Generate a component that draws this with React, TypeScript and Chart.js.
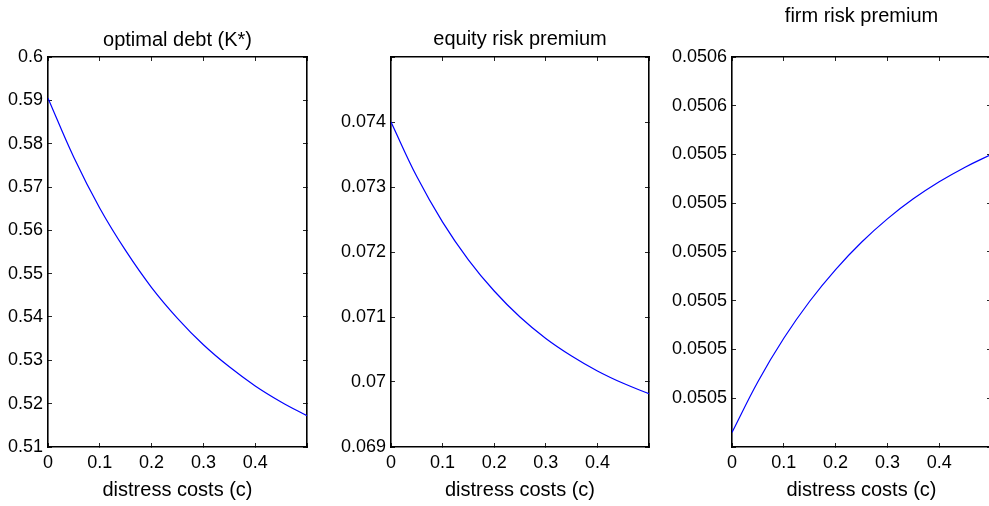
import React, { useEffect, useRef } from 'react';
import { Chart, registerables } from 'chart.js';

Chart.register(...registerables);

// ---- data ----
const costs = [0, 0.05, 0.1, 0.15, 0.2, 0.25, 0.3, 0.35, 0.4, 0.45, 0.5];

const optimalDebt = [0.5905, 0.5768, 0.5651, 0.5553, 0.5468, 0.5397, 0.5336, 0.5285, 0.5241, 0.5204, 0.5172];

const equityPremium = [0.074, 0.07316, 0.07246, 0.07188, 0.0714, 0.071, 0.07067, 0.0704, 0.07017, 0.06998, 0.06982];

const firmPremium = [0.050483, 0.0504934, 0.0505023, 0.0505099, 0.0505164, 0.050522, 0.0505268, 0.0505309, 0.0505344, 0.0505374, 0.05054];

const xTickValues = [0, 0.1, 0.2, 0.3, 0.4, 0.5];
const xTickLabels = ['0', '0.1', '0.2', '0.3', '0.4', ''];

const debtTickValues = [0.51, 0.52, 0.53, 0.54, 0.55, 0.56, 0.57, 0.58, 0.59, 0.6];
const debtTickLabels = ['0.51', '0.52', '0.53', '0.54', '0.55', '0.56', '0.57', '0.58', '0.59', '0.6'];

const equityTickValues = [0.069, 0.07, 0.071, 0.072, 0.073, 0.074, 0.075];
const equityTickLabels = ['0.069', '0.07', '0.071', '0.072', '0.073', '0.074', ''];

const firmTickValues = [0.05048, 0.05049, 0.0505, 0.05051, 0.05052, 0.05053, 0.05054, 0.05055, 0.05056];
const firmTickLabels = ['', '0.0505', '0.0505', '0.0505', '0.0505', '0.0505', '0.0505', '0.0506', '0.0506'];

const xTitle = 'distress costs (c)';

const FONT = "'Liberation Sans', Arial, Helvetica, sans-serif";

type PanelCfg = {
  left: number;
  width: number;
  yWidth: number;
  padR: number;
  title: string;
  titlePad: number;
  values: number[];
  yMin: number;
  yMax: number;
  yTicks: number[];
  yLabels: string[];
};

const panels: PanelCfg[] = [
  {
    left: 0, width: 330, yWidth: 48, padR: 23,
    title: 'optimal debt (K*)', titlePad: 28,
    values: optimalDebt, yMin: 0.51, yMax: 0.6,
    yTicks: debtTickValues, yLabels: debtTickLabels,
  },
  {
    left: 330, width: 330, yWidth: 61, padR: 11,
    title: 'equity risk premium', titlePad: 27,
    values: equityPremium, yMin: 0.069, yMax: 0.075,
    yTicks: equityTickValues, yLabels: equityTickLabels,
  },
  {
    left: 660, width: 340, yWidth: 72, padR: 9,
    title: 'firm risk premium', titlePad: 4,
    values: firmPremium, yMin: 0.05048, yMax: 0.05056,
    yTicks: firmTickValues, yLabels: firmTickLabels,
  },
];

const gridOpts = {
  drawOnChartArea: false,
  drawTicks: true,
  tickLength: -4,
  tickColor: '#262626',
  tickWidth: 1,
};
const borderOpts = { display: true, color: '#000000', width: 1.6 };

function Panel({ cfg }: { cfg: PanelCfg }) {
  const ref = useRef<HTMLCanvasElement | null>(null);
  useEffect(() => {
    if (!ref.current) return;
    const setTicks = (vals: number[]) => (scale: any) => {
      scale.ticks = vals.map((v) => ({ value: v }));
    };
    const chart = new Chart(ref.current, {
      type: 'line',
      data: {
        datasets: [
          {
            data: costs.map((c, i) => ({ x: c, y: cfg.values[i] })),
            borderColor: '#0000ff',
            borderWidth: 1.2,
            pointRadius: 0,
            fill: false,
            tension: 0.4,
            xAxisID: 'x',
            yAxisID: 'y',
          },
        ],
      },
      options: {
        responsive: false,
        animation: false,
        events: [],
        layout: { padding: { left: 0, right: cfg.padR, top: 0, bottom: 0 } },
        plugins: { legend: { display: false }, tooltip: { enabled: false }, title: { display: false } },
        scales: {
          x: {
            type: 'linear',
            position: 'bottom',
            min: 0,
            max: 0.5,
            clip: false,
            afterBuildTicks: setTicks(xTickValues),
            afterFit: (s: any) => { s.height = 59; },
            grid: gridOpts,
            border: borderOpts,
            ticks: {
              autoSkip: false,
              maxRotation: 0,
              padding: 9,
              color: '#000',
              font: { family: FONT, size: 18 },
              callback: (_v: any, i: number) => xTickLabels[i],
            },
            title: {
              display: true,
              text: xTitle,
              color: '#000',
              font: { family: FONT, size: 20 },
              padding: { top: 0, bottom: 4 },
            },
          },
          x2: {
            type: 'linear',
            position: 'top',
            min: 0,
            max: 0.5,
            clip: false,
            afterBuildTicks: setTicks(xTickValues),
            afterFit: (s: any) => { s.height = 57; },
            grid: gridOpts,
            border: borderOpts,
            ticks: { display: false },
            title: {
              display: true,
              text: cfg.title,
              color: '#000',
              font: { family: FONT, size: 20 },
              padding: { top: cfg.titlePad, bottom: 0 },
            },
          },
          y: {
            type: 'linear',
            position: 'left',
            min: cfg.yMin,
            max: cfg.yMax,
            clip: false,
            afterBuildTicks: setTicks(cfg.yTicks),
            afterFit: (s: any) => { s.width = cfg.yWidth; },
            grid: gridOpts,
            border: borderOpts,
            ticks: {
              autoSkip: false,
              padding: 9,
              color: '#000',
              font: { family: FONT, size: 18 },
              callback: (_v: any, i: number) => cfg.yLabels[i],
            },
          },
          y2: {
            type: 'linear',
            position: 'right',
            min: cfg.yMin,
            max: cfg.yMax,
            clip: false,
            afterBuildTicks: setTicks(cfg.yTicks),
            afterFit: (s: any) => { s.width = 0; },
            grid: gridOpts,
            border: borderOpts,
            ticks: { display: false },
          },
        },
      } as any,
    });
    return () => chart.destroy();
  }, [cfg]);
  return (
    <canvas
      ref={ref}
      width={cfg.width}
      height={506}
      style={{ position: 'absolute', left: cfg.left, top: 0, width: cfg.width, height: 506 }}
    />
  );
}

export default function App() {
  return (
    <div
      style={{
        position: 'absolute',
        left: 0,
        top: 0,
        width: 989,
        height: 506,
        overflow: 'hidden',
        background: '#ffffff',
      }}
    >
      {panels.map((p, i) => (
        <Panel key={i} cfg={p} />
      ))}
    </div>
  );
}
